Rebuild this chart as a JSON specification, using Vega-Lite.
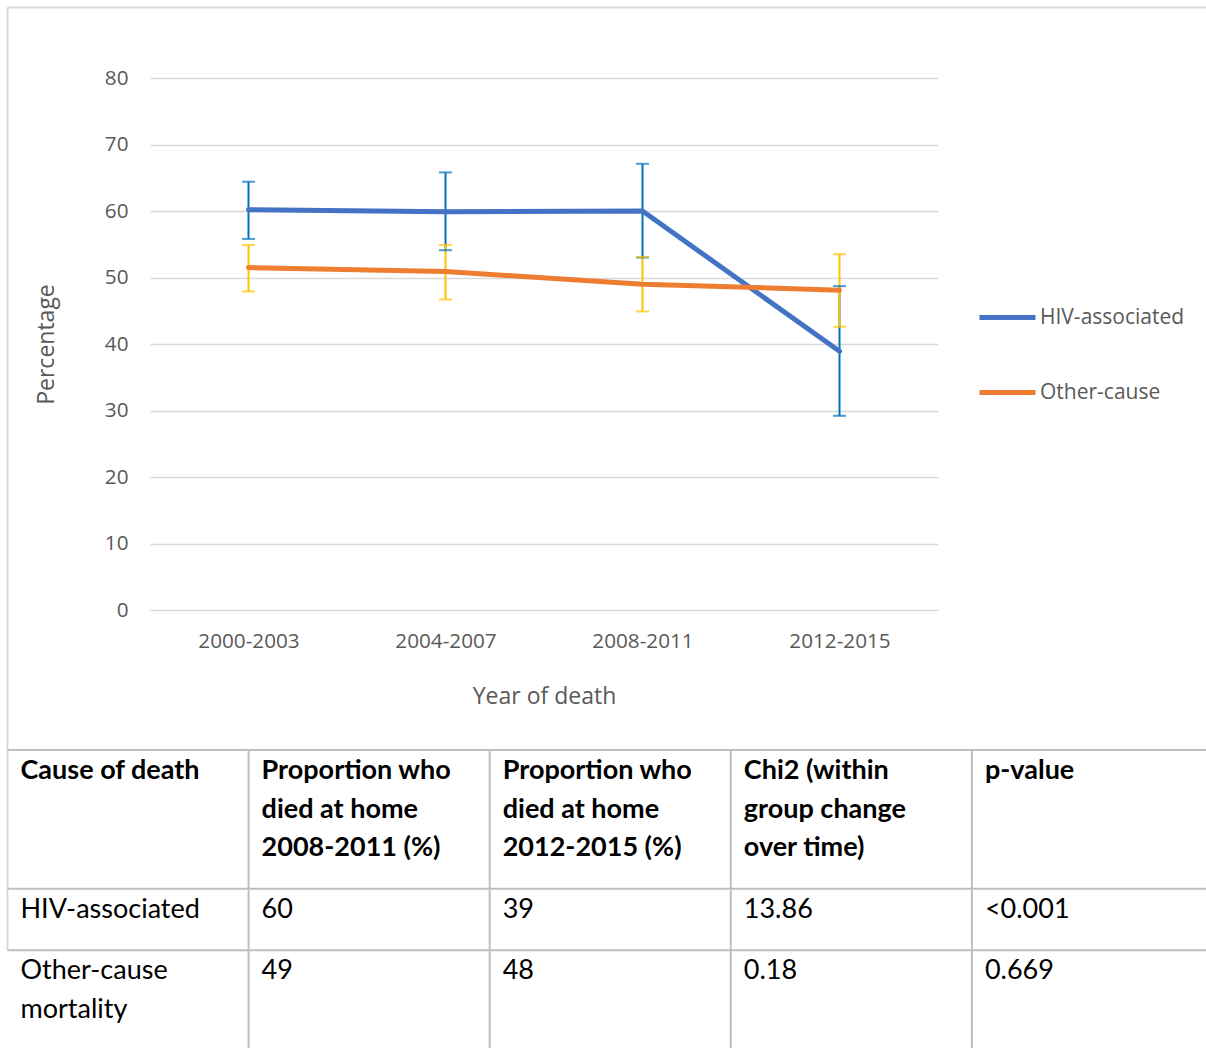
{
  "$schema": "https://vega.github.io/schema/vega-lite/v6.json",
  "width": 788,
  "height": 532,
  "autosize": {"type": "none"},
  "padding": {"left": 150, "top": 78, "right": 268, "bottom": 438},
  "background": "white",
  "config": {
    "view": {"stroke": null},
    "font": "Open Sans",
    "axis": {"labelFont": "Open Sans", "titleFont": "Open Sans", "labelColor": "#595959", "titleColor": "#595959", "titleFontWeight": "normal"},
    "legend": {"labelFont": "Open Sans", "labelColor": "#595959"}
  },
  "datasets": {
    "series": [
      {"period": "2000-2003", "series": "HIV-associated", "value": 60.2, "lo": 55.8, "hi": 64.4},
      {"period": "2004-2007", "series": "HIV-associated", "value": 59.9, "lo": 54.1, "hi": 65.8},
      {"period": "2008-2011", "series": "HIV-associated", "value": 60.0, "lo": 53.0, "hi": 67.1},
      {"period": "2012-2015", "series": "HIV-associated", "value": 38.9, "lo": 29.2, "hi": 48.7},
      {"period": "2000-2003", "series": "Other-cause", "value": 51.5, "lo": 47.9, "hi": 54.9},
      {"period": "2004-2007", "series": "Other-cause", "value": 50.9, "lo": 46.7, "hi": 54.9},
      {"period": "2008-2011", "series": "Other-cause", "value": 49.0, "lo": 44.9, "hi": 53.1},
      {"period": "2012-2015", "series": "Other-cause", "value": 48.1, "lo": 42.6, "hi": 53.5}
    ],
    "frame": [
      {"x1": 0, "x2": 5, "y1": -19.29, "y2": -19.29},
      {"x1": 0, "x2": 0, "y1": -19.29, "y2": 5.2}
    ],
    "grid": [
      {"x1": 0, "x2": 5, "y1": 0, "y2": 0},
      {"x1": 0, "x2": 5, "y1": 3.6, "y2": 3.6},
      {"x1": 0, "x2": 5, "y1": 5.2, "y2": 5.2},
      {"x1": 1, "x2": 1, "y1": 0, "y2": 8},
      {"x1": 2, "x2": 2, "y1": 0, "y2": 8},
      {"x1": 3, "x2": 3, "y1": 0, "y2": 8},
      {"x1": 4, "x2": 4, "y1": 0, "y2": 8}
    ],
    "header": [
      {"col": 0, "row": 0, "text": "Cause of death"},
      {"col": 1, "row": 0, "text": "Proportion who\ndied at home\n2008-2011 (%)"},
      {"col": 2, "row": 0, "text": "Proportion who\ndied at home\n2012-2015 (%)"},
      {"col": 3, "row": 0, "text": "Chi2 (within\ngroup change\nover time)"},
      {"col": 4, "row": 0, "text": "p-value"}
    ],
    "body": [
      {"col": 0, "row": 3.6, "text": "HIV-associated"},
      {"col": 1, "row": 3.6, "text": "60"},
      {"col": 2, "row": 3.6, "text": "39"},
      {"col": 3, "row": 3.6, "text": "13.86"},
      {"col": 4, "row": 3.6, "text": "<0.001"},
      {"col": 0, "row": 5.2, "text": "Other-cause\nmortality"},
      {"col": 1, "row": 5.2, "text": "49"},
      {"col": 2, "row": 5.2, "text": "48"},
      {"col": 3, "row": 5.2, "text": "0.18"},
      {"col": 4, "row": 5.2, "text": "0.669"}
    ]
  },
  "layer": [
    {
      "data": {"name": "series"},
      "layer": [
        {
          "mark": {"type": "rule", "strokeWidth": 2},
          "encoding": {
            "x": {"field": "period", "type": "ordinal", "title": "Year of death", "scale": {"type": "point", "padding": 0.5},
                  "axis": {"labelAngle": 0, "labelFontSize": 20.7, "labelPadding": 21, "ticks": false, "domain": false, "grid": false, "titleFontSize": 23, "titlePadding": 35}},
            "y": {"field": "lo", "type": "quantitative", "title": "Percentage", "scale": {"domain": [0, 80]},
                  "axis": {"values": [0, 10, 20, 30, 40, 50, 60, 70, 80], "labelFontSize": 20.7, "labelPadding": 22, "ticks": false, "domain": false, "gridColor": "#d9d9d9", "gridWidth": 1.5, "titleFontSize": 23, "titlePadding": 46}},
            "y2": {"field": "hi"},
            "color": {"field": "series", "type": "nominal", "scale": {"range": ["#0070C0", "#FFC000"]}, "legend": null}
          }
        },
        {
          "mark": {"type": "tick", "thickness": 2, "size": 13},
          "encoding": {
            "x": {"field": "period", "type": "ordinal", "title": "Year of death"},
            "y": {"field": "lo", "type": "quantitative", "title": "Percentage"},
            "color": {"field": "series", "type": "nominal", "scale": {"range": ["#0070C0", "#FFC000"]}, "legend": null}
          }
        },
        {
          "mark": {"type": "tick", "thickness": 2, "size": 13},
          "encoding": {
            "x": {"field": "period", "type": "ordinal", "title": "Year of death"},
            "y": {"field": "hi", "type": "quantitative", "title": "Percentage"},
            "color": {"field": "series", "type": "nominal", "scale": {"range": ["#0070C0", "#FFC000"]}, "legend": null}
          }
        },
        {
          "mark": {"type": "line", "strokeWidth": 5, "strokeCap": "round", "strokeJoin": "round"},
          "encoding": {
            "x": {"field": "period", "type": "ordinal", "title": "Year of death"},
            "y": {"field": "value", "type": "quantitative", "title": "Percentage"},
            "color": {"field": "series", "type": "nominal", "title": null,
                      "scale": {"range": ["#4472C4", "#ED7D31"]},
                      "legend": {"orient": "none", "legendX": 827, "legendY": 209, "symbolType": "stroke", "symbolSize": 3136, "symbolStrokeWidth": 5, "labelFontSize": 21, "labelOffset": 2, "rowPadding": 34}}
          }
        }
      ],
      "resolve": {"scale": {"color": "independent"}}
    },
    {
      "layer": [
        {
          "data": {"name": "frame"},
          "mark": {"type": "rule", "color": "#d9d9d9", "strokeWidth": 2},
          "encoding": {
            "x": {"field": "x1", "type": "quantitative", "scale": {"domain": [0, 5], "range": [-142.5, 1063], "nice": false, "zero": false}, "axis": null},
            "x2": {"field": "x2"},
            "y": {"field": "y1", "type": "quantitative", "scale": {"domain": [-19.29, 8], "range": [-70.5, 980], "nice": false, "zero": false}, "axis": null},
            "y2": {"field": "y2"}
          }
        },
        {
          "data": {"name": "grid"},
          "mark": {"type": "rule", "color": "#bfbfbf", "strokeWidth": 2},
          "encoding": {
            "x": {"field": "x1", "type": "quantitative", "axis": null},
            "x2": {"field": "x2"},
            "y": {"field": "y1", "type": "quantitative", "axis": null},
            "y2": {"field": "y2"}
          }
        },
        {
          "data": {"name": "header"},
          "mark": {"type": "text", "font": "Lato", "fontSize": 27, "fontWeight": "bold", "color": "black", "align": "left", "baseline": "line-top", "lineBreak": "\n", "lineHeight": 38.5, "dx": 13, "dy": 2},
          "encoding": {
            "x": {"field": "col", "type": "quantitative", "axis": null},
            "y": {"field": "row", "type": "quantitative", "axis": null},
            "text": {"field": "text"}
          }
        },
        {
          "data": {"name": "body"},
          "mark": {"type": "text", "font": "Lato", "fontSize": 27, "color": "black", "align": "left", "baseline": "line-top", "lineBreak": "\n", "lineHeight": 38.5, "dx": 13, "dy": 2},
          "encoding": {
            "x": {"field": "col", "type": "quantitative", "axis": null},
            "y": {"field": "row", "type": "quantitative", "axis": null},
            "text": {"field": "text"}
          }
        }
      ]
    }
  ],
  "resolve": {"scale": {"x": "independent", "y": "independent"}}
}
